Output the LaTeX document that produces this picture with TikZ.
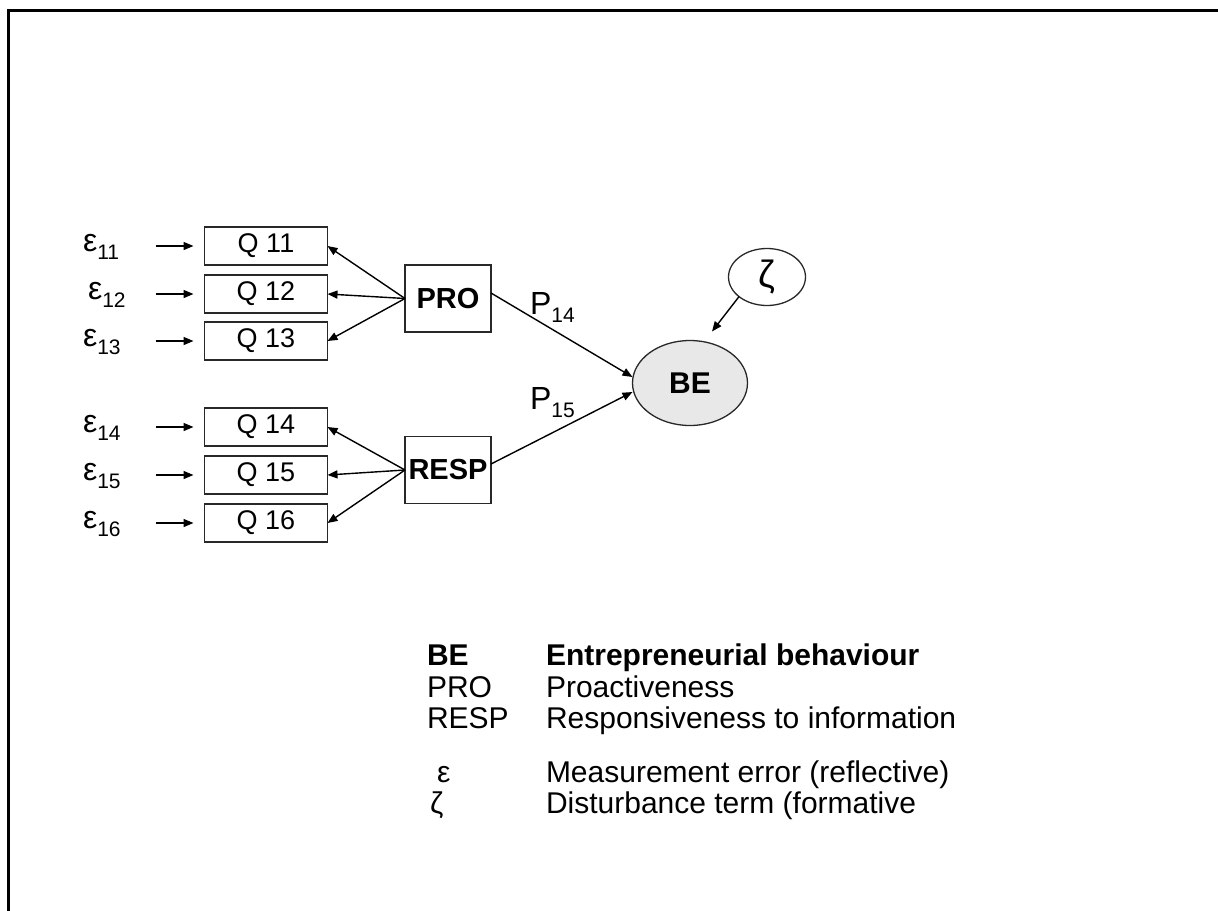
\documentclass[tikz,border=0pt]{standalone}
\usepackage{fontspec}
\setmainfont{Liberation Sans}
\usetikzlibrary{arrows.meta,shapes.geometric}
\definecolor{boxline}{RGB}{40,40,40}
\definecolor{befill}{RGB}{232,232,232}
% lowered index for epsilon and path labels
\newcommand\lowidx[1]{\raisebox{-8.5bp}{\fontsize{21bp}{21bp}\selectfont #1}}
\begin{document}
\begin{tikzpicture}[x=1bp,y=-1bp,
  every node/.style={inner sep=0pt,outer sep=0pt},
  qbox/.style={draw=boxline,line width=1.3bp,minimum width=123bp,minimum height=38bp,
    font=\fontsize{27bp}{30bp}\selectfont},
  latent/.style={draw=boxline,line width=1.3bp,minimum width=86bp,minimum height=67bp,
    font=\bfseries\fontsize{29bp}{32bp}\selectfont},
  arr/.style={line width=1.4bp,-{Triangle[length=10bp,width=8bp]}},
  errlbl/.style={anchor=base west,font=\fontsize{32bp}{36bp}\selectfont},
  pathlbl/.style={anchor=base west,font=\fontsize{32bp}{36bp}\selectfont},
  legend/.style={anchor=base west,font=\fontsize{30bp}{34bp}\selectfont},
  legendb/.style={legend,font=\bfseries\fontsize{30bp}{34bp}\selectfont}]
\useasboundingbox (0,0) rectangle (1218,911);

% page frame (left and top edges)
\coordinate (fl) at (8.5,911);
\coordinate (fc) at (8.5,10.5);
\coordinate (fr) at (1218,10.5);
\draw[line width=2.5bp] (fl) -- (fc) -- (fr);

% indicator boxes
\node[qbox] (q11) at (266,246) {Q 11};
\node[qbox] (q12) at (266,294) {Q 12};
\node[qbox] (q13) at (266,341) {Q 13};
\node[qbox] (q14) at (266,427) {Q 14};
\node[qbox] (q15) at (266,475) {Q 15};
\node[qbox] (q16) at (266,523) {Q 16};

% measurement errors
\node[errlbl] (e11) at (83,251) {ε\lowidx{11}};
\node[errlbl] (e12) at (88,299) {ε\lowidx{12}};
\node[errlbl] (e13) at (83,346) {ε\lowidx{13}};
\node[errlbl] (e14) at (83,432) {ε\lowidx{14}};
\node[errlbl] (e15) at (83,480) {ε\lowidx{15}};
\node[errlbl] (e16) at (83,528) {ε\lowidx{16}};

\foreach \q in {11,12,13,14,15,16}{
  \draw[arr,shorten >=11bp] ([xshift=-49bp]q\q.west) -- (q\q.west);
}

% constructs
\node[latent] (pro) at (448,298.5) {PRO};
\node[latent] (resp) at (448,470) {RESP};
\node[ellipse,draw=boxline,line width=1.3bp,fill=befill,minimum width=115bp,minimum height=85bp,
  font=\bfseries\fontsize{30bp}{32bp}\selectfont] (be) at (690,383) {BE};
\node[ellipse,draw=boxline,line width=1.3bp,minimum width=77bp,minimum height=57bp,
  font=\fontsize{38bp}{40bp}\selectfont] (zeta) at (767,277) {ζ};

% loadings
\foreach \q in {11,12,13}{ \draw[arr] (pro.west) -- (q\q.east); }
\foreach \q in {14,15,16}{ \draw[arr] (resp.west) -- (q\q.east); }

% structural paths
\draw[arr] ([yshift=5.5bp]pro.east) -- ([yshift=6bp]be.west);
\draw[arr] ([yshift=6bp]resp.east) -- ([yshift=-9bp]be.west);
\draw[arr] (zeta.215) -- ([xshift=22bp,yshift=9bp]be.north);

\node[pathlbl] (p14) at (530,314) {P\lowidx{14}};
\node[pathlbl] (p15) at (530,409) {P\lowidx{15}};

% legend
\node[legendb] (lbe) at (427,665) {BE};
\node[legendb] (lbet) at (546,665) {Entrepreneurial behaviour};
\node[legend] (lpro) at (427,697) {PRO};
\node[legend] (lprot) at (546,697) {Proactiveness};
\node[legend] (lresp) at (427,728) {RESP};
\node[legend] (lrespt) at (546,728) {Responsiveness to information};
\node[legend] (leps) at (437,782) {ε};
\node[legend] (lepst) at (546,782) {Measurement error (reflective)};
\node[legend] (lzeta) at (430,813) {ζ};
\node[legend] (lzetat) at (546,813) {Disturbance term (formative};
\end{tikzpicture}
\end{document}
